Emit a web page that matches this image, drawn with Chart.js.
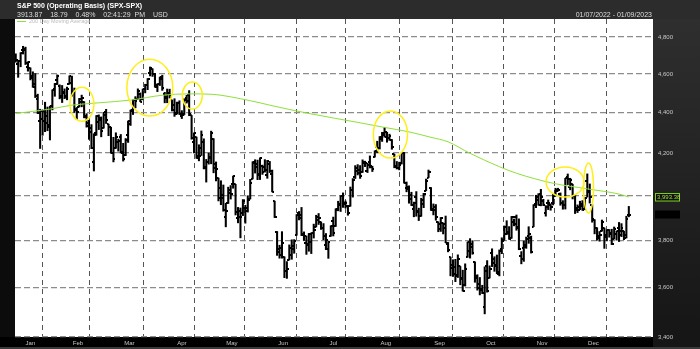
<!DOCTYPE html>
<html lang="en">
<head>
<meta charset="UTF-8">
<script src="https://cdn.jsdelivr.net/npm/chart.js@4.4.0/dist/chart.umd.min.js"></script>
<title>S&amp;P 500 (Operating Basis)</title>
<style>
body{margin:0;background:#000;}
#wrap{position:relative;width:700px;height:349px;overflow:hidden;font-family:"Liberation Sans",Arial,sans-serif;}
#c{position:absolute;left:0;top:0;}
.t{position:absolute;white-space:nowrap;line-height:1;}
</style>
</head>
<body>
<div id="wrap">
	<canvas id="c" width="700" height="349"></canvas>
	<div class="t" style="left:17px;top:2px;font-size:7px;font-weight:bold;color:#fff">S&amp;P 500 (Operating Basis) (SPX-SPX)</div>
	<div class="t" style="left:17px;top:11px;font-size:7px;color:#ddd;word-spacing:2px">3913.87&nbsp; 18.79&nbsp; 0.48%&nbsp; 02:41:29 PM&nbsp; USD</div>
	<div class="t" style="right:48px;top:11px;font-size:7px;color:#ddd">01/07/2022 - 01/09/2023</div>
	<div class="t" style="left:17px;top:19px;font-size:5.5px;color:#bbb"><span style="display:inline-block;width:9px;height:1px;background:#8fe03a;vertical-align:middle;margin-right:3px"></span>200 Day Moving Average</div>
</div>
<script>
// trading days 01/07/2022 .. 01/09/2023, one entry per day
var openP = [
	4697.7,4655.3,4669.1,4728.6,4733.6,4637.0,4632.2,4588.0,4547.4,4471.4,4356.3,4366.6,4408.4,4380.6,4336.2,4431.8,
	4519.6,4566.4,4535.4,4482.8,4505.8,4480.0,4547.0,4553.2,4506.3,4412.6,4429.3,4455.8,4456.1,4384.6,4332.7,4324.9,4155.8,4298.4,4354.2,
	4363.1,4322.6,4401.3,4342.1,4327.0,4202.7,4223.1,4252.6,4279.5,4202.8,4188.8,4288.1,4345.1,4407.3,4462.4,4469.1,4493.1,4470.0,4522.9,4541.1,4602.9,4624.2,4599.0,
	4540.3,4548.0,4572.5,4494.2,4474.7,4494.2,4462.6,4437.6,4394.3,4449.1,4385.6,4390.6,4472.3,4489.2,4385.8,4255.3,4278.1,4187.0,4222.6,4253.8,
	4130.6,4159.8,4181.2,4270.4,4128.2,4081.3,4035.2,3990.1,3903.9,3963.9,4013.0,4052.0,4052.0,3899.0,3927.8,3919.4,3942.9,3929.6,3984.6,4077.4,4151.1,
	4149.8,4095.4,4137.6,4134.7,4096.5,4147.1,4101.7,3974.4,3838.2,3763.5,3764.1,3728.2,3665.9,3715.3,3733.9,3774.7,3821.8,3920.8,3913.0,3825.1,3786.0,
	3781.0,3792.6,3832.0,3858.9,3888.3,3880.9,3852.0,3779.7,3764.0,3818.0,3883.8,3860.7,3935.3,3955.5,4000.2,3965.7,3953.2,3951.4,4026.1,4087.3,
	4112.4,4104.2,4108.0,4154.9,4115.9,4155.9,4133.1,4181.0,4227.4,4225.0,4269.4,4290.5,4280.4,4273.1,4266.3,4195.1,4133.1,4126.6,4153.3,4198.7,4034.6,4041.3,4000.7,
	3936.7,3994.7,3930.9,3909.4,3959.9,4022.9,4083.7,4037.1,3940.7,3932.4,3880.9,3849.9,3875.2,3871.4,3782.4,3727.1,3682.7,3686.4,3651.9,3687.0,3633.5,
	3609.8,3726.5,3753.3,3772.0,3706.7,3647.5,3595.9,3590.8,3520.4,3690.4,3638.7,3746.3,3703.1,3689.1,3657.1,3762.0,3799.4,3826.0,3834.7,3808.3,3881.9,
	3901.8,3852.9,3733.3,3767.0,3780.7,3817.0,3810.9,3859.9,3963.7,3978.0,4006.4,3976.8,3919.3,3966.4,3956.2,3965.5,4000.3,4023.3,4005.4,3964.2,3957.2,
	4087.1,4040.2,4052.0,3996.6,3933.3,3947.8,3954.2,3939.3,4069.4,4015.5,3958.4,3890.9,3853.8,3810.5,3839.5,3853.6,3815.1,3843.3,3829.6,3805.5,3829.1,
	3853.3,3840.4,3839.7,3823.4,3910.8
];
var highP = [
	4707.9,4673.0,4714.1,4748.8,4744.1,4665.1,4632.2,4611.6,4602.1,4494.5,4417.4,4411.0,4453.2,4428.7,4432.7,4516.9,
	4550.5,4595.3,4542.9,4539.7,4521.9,4531.3,4590.0,4588.9,4526.3,4426.2,4472.8,4489.6,4456.1,4394.6,4362.1,4340.0,4294.7,4385.3,4388.8,
	4378.5,4401.5,4416.8,4342.1,4327.0,4276.9,4299.4,4268.3,4291.0,4247.6,4271.1,4358.0,4412.7,4465.4,4481.8,4522.0,4501.1,4520.6,4546.0,4575.7,4637.3,4627.8,4603.1,
	4548.7,4583.5,4593.5,4503.9,4521.2,4520.4,4464.4,4471.0,4453.9,4460.5,4410.3,4471.0,4488.3,4512.9,4385.8,4299.0,4278.1,4240.7,4308.5,4269.7,
	4169.8,4200.1,4307.7,4270.4,4157.7,4081.3,4068.8,4049.1,3964.8,4038.9,4046.5,4090.7,4052.0,3946.0,3943.4,3981.9,3955.7,3999.3,4075.1,4158.5,4168.3,
	4166.5,4177.5,4142.7,4168.8,4164.9,4160.1,4119.1,3974.4,3838.2,3778.2,3837.6,3728.2,3707.7,3779.7,3801.8,3802.6,3913.7,3927.7,3945.9,3836.5,3819.0,
	3829.8,3832.2,3870.9,3910.6,3918.5,3880.9,3873.4,3829.4,3796.4,3863.6,3902.4,3939.8,3974.1,3999.3,4012.4,3975.3,3953.2,4039.6,4078.9,4140.2,
	4144.9,4140.5,4167.7,4161.3,4151.6,4186.6,4137.3,4211.0,4257.9,4280.5,4301.8,4325.3,4302.2,4292.5,4266.3,4195.1,4159.8,4156.6,4200.5,4203.0,4063.0,4045.0,4015.4,
	3970.2,4018.4,3942.6,3987.9,4010.5,4076.8,4119.3,4037.1,3961.9,3959.1,3880.9,3900.5,3876.0,3907.1,3790.4,3727.1,3715.7,3717.5,3736.7,3687.0,3671.4,
	3698.3,3791.9,3806.9,3797.9,3706.7,3652.2,3640.7,3608.3,3685.4,3712.0,3689.7,3762.8,3728.6,3736.0,3757.9,3810.7,3862.9,3886.2,3860.0,3905.4,3893.7,
	3911.8,3894.4,3750.6,3796.3,3813.9,3859.4,3818.2,3958.3,4001.5,4009.0,4028.8,3983.1,3954.2,3979.9,3962.0,4005.9,4033.8,4034.0,4012.3,3976.8,4080.1,
	4100.5,4080.5,4052.5,4001.5,3957.6,3974.2,3977.0,3990.7,4101.0,4053.8,3958.4,3890.9,3854.9,3838.2,3889.3,3853.6,3845.8,3846.7,3848.3,3858.2,3839.9,
	3878.5,3873.2,3839.7,3906.2,3950.6
];
var lowP = [
	4662.7,4582.2,4638.3,4706.7,4650.3,4614.8,4568.7,4530.2,4477.0,4395.3,4222.6,4287.1,4304.8,4309.5,4264.0,4414.0,
	4483.5,4544.3,4470.4,4451.5,4471.5,4465.4,4547.0,4484.3,4401.4,4364.8,4429.3,4429.7,4373.8,4327.2,4267.1,4221.5,4114.7,4286.8,4315.1,
	4279.5,4322.6,4345.6,4284.9,4199.9,4157.9,4223.1,4209.8,4200.5,4161.7,4187.9,4252.0,4335.7,4390.6,4424.3,4469.1,4455.8,4465.2,4501.1,4517.7,4589.7,4587.0,4530.4,
	4507.6,4539.2,4514.2,4450.0,4450.3,4474.6,4408.4,4381.3,4392.7,4390.8,4370.3,4390.6,4448.8,4384.5,4267.6,4200.8,4175.0,4162.9,4188.6,4124.3,
	4062.5,4147.1,4148.9,4106.0,4067.9,3975.5,3958.2,3928.8,3858.9,3963.9,3984.0,4033.9,3911.9,3876.6,3810.3,3909.0,3875.1,3925.0,3984.6,4077.4,4104.9,
	4073.9,4074.4,4098.7,4109.2,4080.2,4107.2,4017.2,3900.2,3734.3,3722.3,3722.3,3639.8,3636.9,3715.3,3717.7,3743.5,3821.8,3889.7,3820.1,3799.0,3738.7,
	3752.1,3742.1,3809.4,3858.9,3869.3,3847.2,3802.4,3759.1,3721.6,3817.2,3818.6,3860.7,3930.5,3927.6,3945.9,3943.5,3910.7,3951.4,3993.0,4079.2,
	4096.0,4079.8,4108.0,4135.4,4107.3,4129.0,4112.1,4181.0,4201.4,4219.8,4256.9,4277.8,4253.1,4262.0,4218.7,4129.9,4124.0,4120.0,4147.6,4057.7,4017.4,3965.2,3954.5,
	3903.7,3906.2,3886.8,3906.0,3944.8,4022.9,4083.7,3932.4,3912.2,3888.3,3837.1,3838.5,3827.5,3789.5,3749.5,3647.5,3644.8,3623.3,3640.6,3610.4,3584.1,
	3604.9,3726.5,3722.7,3739.2,3620.7,3588.1,3568.5,3573.9,3491.6,3579.7,3638.7,3686.5,3666.5,3656.4,3647.4,3741.7,3799.4,3824.1,3803.8,3808.3,3863.2,
	3843.8,3758.7,3698.2,3708.8,3764.7,3786.3,3744.2,3859.9,3944.8,3956.4,3953.2,3954.3,3906.5,3936.0,3933.3,3956.9,3998.7,4020.8,3955.8,3937.7,3938.6,
	4050.9,4026.6,3984.5,3918.4,3922.7,3935.8,3933.0,3935.3,3993.0,3965.7,3879.5,3827.9,3800.0,3795.6,3839.5,3764.5,3797.0,3813.2,3780.8,3805.5,3800.3,
	3794.3,3815.8,3802.4,3809.6,3903.5
];
var closeP = [
	4677.0,4670.3,4713.1,4726.4,4659.0,4662.9,4577.1,4532.8,4482.7,4397.9,4410.1,4356.5,4349.9,4326.5,4431.9,4515.6,
	4546.5,4589.4,4477.4,4500.5,4483.9,4521.5,4587.2,4504.1,4418.6,4401.7,4471.1,4475.0,4380.3,4348.9,4304.8,4225.5,4288.7,4384.7,4373.9,
	4306.3,4386.5,4363.5,4328.9,4201.1,4170.7,4277.9,4259.5,4204.3,4173.1,4262.5,4357.9,4411.7,4463.1,4461.2,4511.6,4456.2,4520.2,4543.1,4575.5,4631.6,4602.5,4530.4,
	4545.9,4582.6,4525.1,4481.2,4500.2,4488.3,4412.5,4397.5,4446.6,4392.6,4391.7,4462.2,4459.5,4393.7,4271.8,4296.1,4175.2,4184.0,4287.5,4131.9,
	4155.4,4175.5,4300.2,4146.9,4123.3,3991.2,4001.1,3935.2,3930.1,4023.9,4008.0,4088.9,3923.7,3900.8,3901.4,3973.8,3941.5,3978.7,4057.8,4158.2,4132.2,
	4101.2,4176.8,4108.5,4121.4,4160.7,4115.8,4017.8,3900.9,3749.6,3735.5,3790.0,3666.8,3674.8,3764.8,3759.9,3795.7,3911.7,3900.1,3821.6,3818.8,3785.4,
	3825.3,3831.4,3845.1,3902.6,3899.4,3854.4,3818.8,3801.8,3790.4,3863.2,3830.9,3936.7,3959.9,3999.0,3961.6,3966.8,3921.1,4023.6,4072.4,4130.3,
	4118.6,4091.2,4155.2,4151.9,4145.2,4140.1,4122.5,4210.2,4207.3,4280.2,4297.1,4305.2,4274.0,4283.7,4228.5,4138.0,4128.7,4140.8,4199.1,4057.7,4030.6,3986.2,3955.0,
	3966.9,3924.3,3908.2,3979.9,4006.2,4067.4,4110.4,3932.7,3946.0,3901.4,3873.3,3899.9,3855.9,3789.9,3758.0,3693.2,3655.0,3647.3,3719.0,3640.5,3585.6,
	3678.4,3790.9,3783.3,3744.5,3639.7,3612.4,3588.8,3577.0,3669.9,3583.1,3678.0,3720.0,3695.2,3665.8,3752.8,3797.3,3859.1,3830.6,3807.3,3901.1,3872.0,
	3856.1,3759.7,3719.9,3770.6,3806.8,3828.1,3748.6,3956.4,3992.9,3957.3,3991.7,3958.8,3946.6,3965.3,3949.9,4003.6,4027.3,4026.1,3963.9,3957.6,4080.1,
	4076.6,4071.7,3998.8,3941.3,3933.9,3963.5,3934.4,3990.6,4019.7,3995.3,3895.8,3852.4,3817.7,3821.6,3878.4,3822.4,3844.8,3829.3,3783.2,3849.3,3839.5,
	3824.1,3853.0,3808.1,3895.1,3913.9
];

// 200 day moving average (day index -> value)
var maDay = [0,14,23,34,47,60,71,80,84,100,104,120,141,151,161,170,177,186,198,205,220,234,247,251];
var maVal = [4396,4418,4438,4450,4464,4489,4496,4494,4489,4450,4438,4396,4349,4326,4304,4277,4255,4199,4135,4104,4057,4031,4007,3993.38];

// month axis: day index of the first session of each month, Jan 3 2022 would be -4
var monthNames = ['Jan','Feb','Mar','Apr','May','Jun','Jul','Aug','Sep','Oct','Nov','Dec'];
var monthStart = [-4,16,35,58,78,99,120,140,163,184,205,226,247];
var yTicks = [3400,3600,3800,4000,4200,4400,4600,4800];

// yellow highlight circles: [centre day, low value, high value, half width in days]
var circles = [
	[27.1,4357,4531,4.9],
	[54.9,4383,4679,9.4],
	[72.3,4418,4558,4.1],
	[153.4,4176,4409,7.0],
	[224.9,3993,4134,7.8],
	[234.5,3921,4153,2.05]
];

var monthMid = [];
for (var i = 0; i < monthNames.length; i++) monthMid.push((monthStart[i] + monthStart[i+1]) / 2);
var gridDays = monthStart.slice(1);

function tickImg(left){
	var c = document.createElement('canvas');
	c.width = 4; c.height = 2;
	var g = c.getContext('2d');
	g.fillStyle = '#000';
	g.fillRect(left ? 0 : 2, 0, 2, 2);
	return c;
}

var bgPlugin = {
	id: 'bg',
	beforeDraw: function(chart){
		var ctx = chart.ctx, a = chart.chartArea, W = chart.width, H = chart.height;
		ctx.save();
		var gr = ctx.createLinearGradient(0, 0, 0, H);
		gr.addColorStop(0, '#303030');
		gr.addColorStop(1, '#151515');
		ctx.fillStyle = gr;
		ctx.fillRect(0, 0, W, H);
		ctx.fillStyle = '#2c2c2c';
		ctx.fillRect(0, 0, W, a.top);
		ctx.fillStyle = '#0c0c0c';
		ctx.fillRect(0, a.top, a.left, a.bottom - a.top);
		ctx.fillStyle = '#000';
		ctx.fillRect(0, a.bottom, a.right, 10);
		ctx.fillStyle = '#3a3a3a';
		ctx.fillRect(0, a.bottom + 10, W, H - a.bottom - 10);
		ctx.fillStyle = '#fff';
		ctx.fillRect(a.left, a.top, a.right - a.left, a.bottom - a.top);
		ctx.restore();
	},
	afterDatasetsDraw: function(chart){
		var ctx = chart.ctx, xs = chart.scales.x, ys = chart.scales.y;
		ctx.save();
		ctx.strokeStyle = '#ffee1a';
		ctx.lineWidth = 1.5;
		circles.forEach(function(c){
			var cx = xs.getPixelForValue(c[0]);
			var rx = xs.getPixelForValue(c[0] + c[3]) - cx;
			var y1 = ys.getPixelForValue(c[2]), y2 = ys.getPixelForValue(c[1]);
			ctx.beginPath();
			ctx.ellipse(cx, (y1 + y2) / 2, rx, (y2 - y1) / 2, 0, 0, Math.PI * 2);
			ctx.stroke();
		});
		ctx.restore();
	},
	afterDraw: function(chart){
		var ctx = chart.ctx, a = chart.chartArea, ys = chart.scales.y;
		var maLast = maVal[maVal.length - 1];
		var y = ys.getPixelForValue(maLast);
		ctx.save();
		ctx.fillStyle = '#111';
		ctx.fillRect(a.right + 2, y - 4, 24, 8);
		ctx.strokeStyle = '#7fd21a';
		ctx.lineWidth = 1;
		ctx.strokeRect(a.right + 2.5, y - 3.5, 24, 7.5);
		ctx.fillStyle = '#9be23c';
		ctx.font = '6px "Liberation Sans", Arial, sans-serif';
		ctx.textBaseline = 'middle';
		ctx.fillText(maLast.toLocaleString('en-US', {minimumFractionDigits: 2}), a.right + 4, y + 0.5);
		var yc = ys.getPixelForValue(closeP[closeP.length - 1]);
		ctx.fillStyle = '#000';
		ctx.fillRect(a.right + 2, yc - 4, 25, 8);
		ctx.restore();
	}
};

var ctx = document.getElementById('c').getContext('2d');
var chart = new Chart(ctx, {
	type: 'line',
	data: {
		datasets: [{
			label: '200 Day Moving Average',
			type: 'line',
			data: maDay.map(function(d, i){ return {x: d, y: maVal[i]}; }),
			borderColor: '#8fe03a',
			borderWidth: 1,
			pointRadius: 0,
			cubicInterpolationMode: 'monotone',
			order: 0
		}, {
			label: 'High-Low',
			type: 'bar',
			data: highP.map(function(h, i){ return {x: i, y: [lowP[i], h]}; }),
			backgroundColor: '#000',
			borderWidth: 0,
			barThickness: 1.4,
			order: 3
		}, {
			label: 'Open',
			type: 'scatter',
			data: openP.map(function(v, i){ return {x: i, y: v}; }),
			pointStyle: tickImg(true),
			pointRadius: 1,
			order: 2
		}, {
			label: 'Close',
			type: 'scatter',
			data: closeP.map(function(v, i){ return {x: i, y: v}; }),
			pointStyle: tickImg(false),
			pointRadius: 1,
			order: 1
		}]
	},
	options: {
		responsive: false,
		animation: false,
		events: [],
		layout: {padding: {left: 15, top: 19, right: 0, bottom: 0}},
		plugins: {legend: {display: false}, tooltip: {enabled: false}},
		scales: {
			x: {
				type: 'linear',
				min: -0.3,
				max: 260.9,
				offset: false,
				afterBuildTicks: function(s){
					s.ticks = gridDays.concat(monthMid).sort(function(a, b){ return a - b; }).map(function(v){ return {value: v}; });
				},
				afterFit: function(s){ s.height = 12; },
				grid: {
					color: function(c){ return (c.tick && gridDays.indexOf(c.tick.value) >= 0) ? '#555' : 'rgba(0,0,0,0)'; },
					lineWidth: 1,
					drawTicks: false
				},
				border: {display: false, dash: [5, 4]},
				ticks: {
					autoSkip: false,
					maxRotation: 0,
					padding: 3,
					color: '#c8c8c8',
					font: {size: 6, family: '"Liberation Sans", Arial, sans-serif'},
					callback: function(v){ var k = monthMid.indexOf(v); return k >= 0 ? monthNames[k] : ''; }
				}
			},
			y: {
				type: 'logarithmic',
				position: 'right',
				min: 3400,
				max: 4900,
				afterBuildTicks: function(s){ s.ticks = yTicks.map(function(v){ return {value: v}; }); },
				afterFit: function(s){ s.width = 47; },
				grid: {color: '#8c8c8c', lineWidth: 1.3, drawTicks: false},
				border: {display: false, dash: [6, 3]},
				ticks: {
					autoSkip: false,
					padding: 5,
					color: '#c8c8c8',
					font: {size: 6, family: '"Liberation Sans", Arial, sans-serif'},
					callback: function(v){ return v.toLocaleString('en-US'); }
				}
			}
		}
	},
	plugins: [bgPlugin]
});
</script>
</body>
</html>
